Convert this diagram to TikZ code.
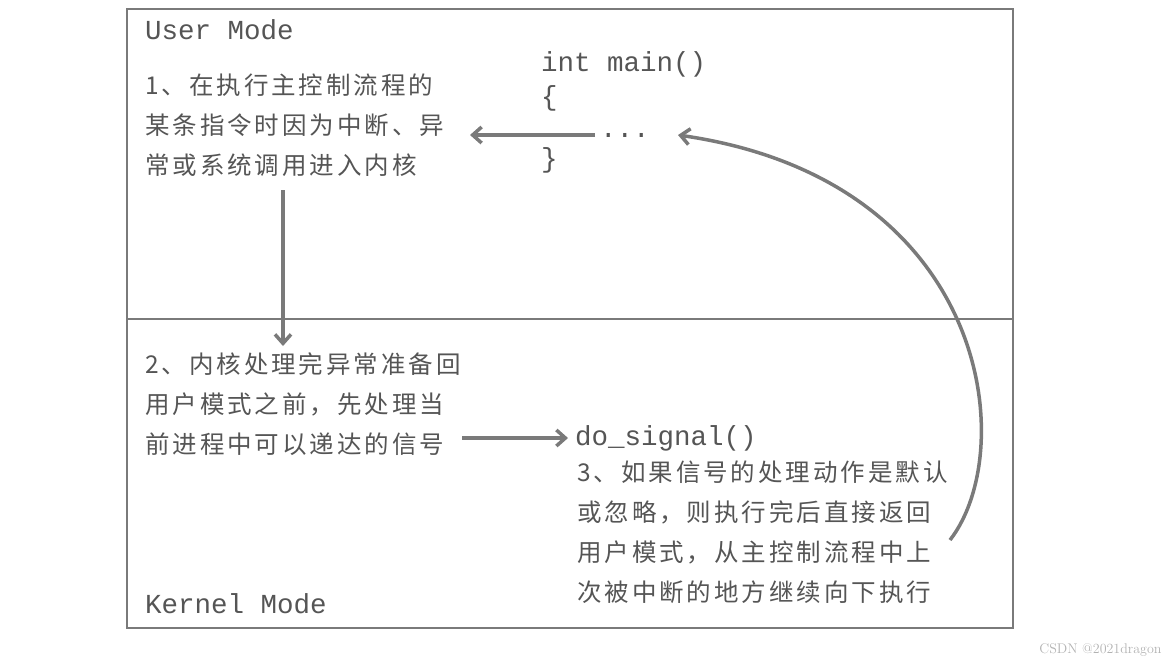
\documentclass[tikz,border=0pt]{standalone}
\usepackage{fontspec}
\newfontfamily\cjk[LetterSpace=12]{Noto Sans CJK SC}
\setmonofont{Liberation Mono}
\usetikzlibrary{arrows.meta}
\definecolor{ln}{HTML}{7A7A7A}
\definecolor{tx}{HTML}{555555}
\begin{document}
\begin{tikzpicture}[x=1pt,y=-1pt,
  cn/.style={font=\cjk\fontsize{24.5}{40}\selectfont,text=tx,align=left,anchor=north west,inner sep=0pt},
  code/.style={font=\ttfamily\fontsize{27.5}{36}\selectfont,text=tx,anchor=west,inner sep=0pt},
  arr/.style={draw=ln,line width=3.5pt,-{Straight Barb[length=9pt,width=16pt,line width=3.5pt]}}]
\useasboundingbox (0,0) rectangle (1174,670);
\draw[ln,line width=2pt] (127,9) rectangle (1013,628);
\draw[ln,line width=2pt] (127,319) -- (1013,319);
\node[code] (um) at (145,30) {User Mode};
\node[code] (km) at (145,604) {Kernel Mode};
\node[code] (mn) at (541,64) {int main()};
\node[code] (lb) at (541,98) {\{};
\node[code] (dots) at (600,135) {...};
\node[code] (rb) at (541,160) {\}};
\node[cn] (t1) at (145,74) {1、在执行主控制流程的\\某条指令时因为中断、异\\常或系统调用进入内核};
\node[cn] (t2) at (145,352) {2、内核处理完异常准备回\\用户模式之前，先处理当\\前进程中可以递达的信号};
\node[code] (ds) at (575,438) {do\_signal()};
\node[cn] (t3) at (577,461) {3、如果信号的处理动作是默认\\或忽略，则执行完后直接返回\\用户模式，从主控制流程中上\\次被中断的地方继续向下执行};
\node[font=\fontsize{14}{16}\selectfont,text=gray!60,anchor=east] (wm) at (1165,650) {CSDN @2021dragon};
\coordinate (a1s) at (595,135); \coordinate (a1e) at (470,135);
\draw[arr] (a1s) -- (a1e);
\coordinate (a2s) at (283,190); \coordinate (a2e) at (283,346);
\draw[arr] (a2s) -- (a2e);
\coordinate (a3s) at (462,438); \coordinate (a3e) at (568,438);
\draw[arr] (a3s) -- (a3e);
\coordinate (a4s) at (950,540); \coordinate (a4e) at (678,135);
\draw[arr] (a4s) .. controls (1020,450) and (990,180) .. (a4e);
\end{tikzpicture}
\end{document}
